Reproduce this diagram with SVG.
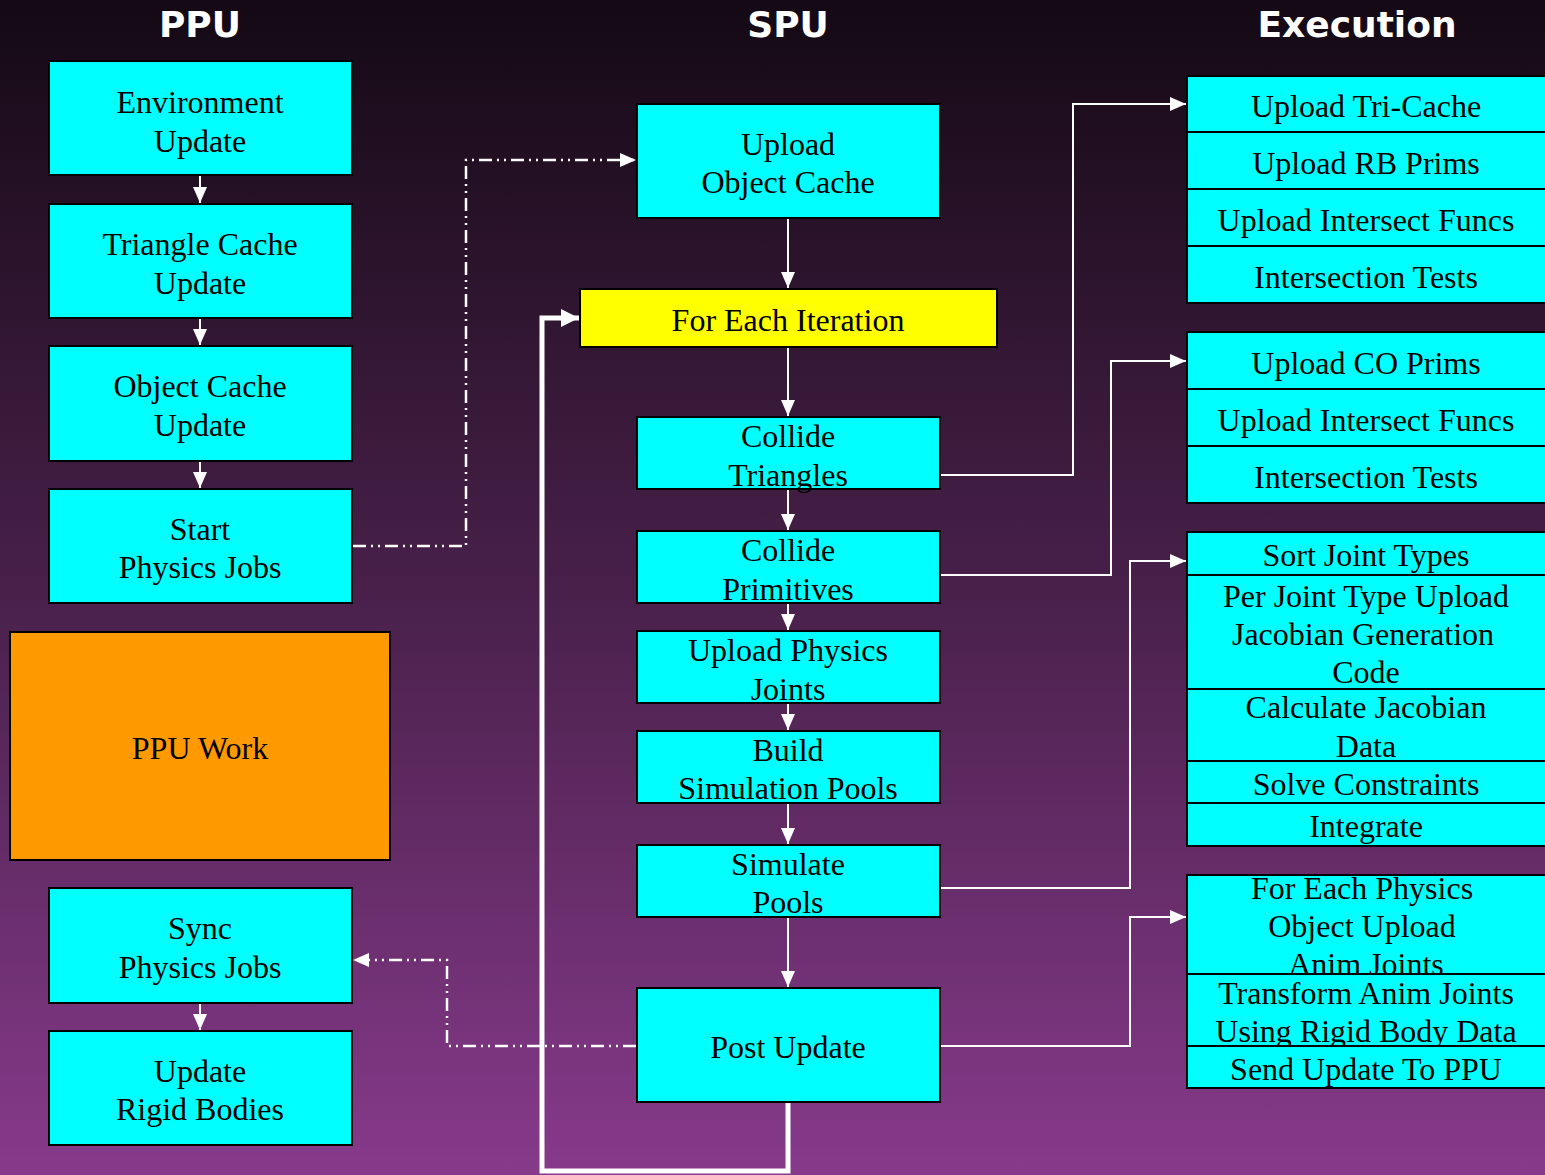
<svg xmlns="http://www.w3.org/2000/svg" width="1545" height="1175" viewBox="0 0 1545 1175">
  <defs>
    <linearGradient id="bg" x1="0" y1="0" x2="0" y2="1">
      <stop offset="0" stop-color="#140914"/>
      <stop offset="0.5" stop-color="#48204a"/>
      <stop offset="1" stop-color="#873a8b"/>
    </linearGradient>
    <marker id="arrow" markerUnits="userSpaceOnUse" markerWidth="16" markerHeight="16" refX="16" refY="8" orient="auto">
      <path d="M0,1 L16,8 L0,15 Z" fill="#ffffff"/>
    </marker>
    <marker id="arrowBig" markerUnits="userSpaceOnUse" markerWidth="18" markerHeight="18" refX="18" refY="9" orient="auto">
      <path d="M0,0 L18,9 L0,18 Z" fill="#ffffff"/>
    </marker>
    <!-- the first post-update row clips its last line at the row edge -->
    <clipPath id="clipFirstPostRow">
      <rect x="1187" y="875" width="370" height="99"/>
    </clipPath>
    <style>
      .box { fill: #00ffff; stroke: #000000; stroke-width: 2; }
      .iter { fill: #ffff00; stroke: #000000; stroke-width: 2; }
      .work { fill: #ff9900; stroke: #000000; stroke-width: 2; }
      .lbl { font-family: "Liberation Serif", "Times New Roman", serif; font-size: 32px; fill: #000000; text-anchor: middle; }
      .head { font-family: "DejaVu Sans", Verdana, sans-serif; font-weight: bold; font-size: 36px; fill: #ffffff; text-anchor: middle; }
      .flow { stroke: #ffffff; stroke-width: 2; fill: none; }
      .sync { stroke: #ffffff; stroke-width: 2.5; fill: none; stroke-dasharray: 13 5 2 5 2 5; }
      .loop { stroke: #ffffff; stroke-width: 5; fill: none; }
    </style>
  </defs>

  <rect x="0" y="0" width="1545" height="1175" fill="url(#bg)"/>

  <!-- column headings -->
  <text class="head" x="200" y="37">PPU</text>
  <text class="head" x="788" y="37">SPU</text>
  <text class="head" x="1357" y="37">Execution</text>

  <!-- connectors -->
  <g id="connectors">
    <!-- PPU chain -->
    <line class="flow" x1="200" y1="176" x2="200" y2="203" marker-end="url(#arrow)"/>
    <line class="flow" x1="200" y1="319" x2="200" y2="345" marker-end="url(#arrow)"/>
    <line class="flow" x1="200" y1="462" x2="200" y2="488" marker-end="url(#arrow)"/>
    <line class="flow" x1="200" y1="1004" x2="200" y2="1030" marker-end="url(#arrow)"/>
    <!-- SPU chain -->
    <line class="flow" x1="788" y1="219" x2="788" y2="288" marker-end="url(#arrow)"/>
    <line class="flow" x1="788" y1="348" x2="788" y2="416" marker-end="url(#arrow)"/>
    <line class="flow" x1="788" y1="490" x2="788" y2="530" marker-end="url(#arrow)"/>
    <line class="flow" x1="788" y1="604" x2="788" y2="630" marker-end="url(#arrow)"/>
    <line class="flow" x1="788" y1="704" x2="788" y2="730" marker-end="url(#arrow)"/>
    <line class="flow" x1="788" y1="804" x2="788" y2="844" marker-end="url(#arrow)"/>
    <line class="flow" x1="788" y1="918" x2="788" y2="987" marker-end="url(#arrow)"/>
    <!-- PPU / SPU signalling -->
    <polyline class="sync" points="353,546 466,546 466,160 636,160" marker-end="url(#arrow)"/>
    <polyline class="sync" points="636,1046 447,1046 447,960 353,960" marker-end="url(#arrow)"/>
    <!-- iteration loop back -->
    <polyline class="loop" points="788,1103 788,1171 542,1171 542,318 579,318" marker-end="url(#arrowBig)"/>
    <!-- SPU tasks to execution detail -->
    <polyline class="flow" points="941,475 1073,475 1073,104 1186,104" marker-end="url(#arrow)"/>
    <polyline class="flow" points="941,575 1111,575 1111,361 1186,361" marker-end="url(#arrow)"/>
    <polyline class="flow" points="941,888 1130,888 1130,561 1186,561" marker-end="url(#arrow)"/>
    <polyline class="flow" points="941,1046 1130,1046 1130,917 1186,917" marker-end="url(#arrow)"/>
  </g>

  <!-- PPU column -->
  <g id="env-update">
    <rect class="box" x="49" y="61" width="303" height="114"/>
    <text class="lbl" x="200" y="113">Environment</text>
    <text class="lbl" x="200" y="152">Update</text>
  </g>
  <g id="tri-cache-update">
    <rect class="box" x="49" y="204" width="303" height="114"/>
    <text class="lbl" x="200" y="255">Triangle Cache</text>
    <text class="lbl" x="200" y="294">Update</text>
  </g>
  <g id="obj-cache-update">
    <rect class="box" x="49" y="346" width="303" height="115"/>
    <text class="lbl" x="200" y="397">Object Cache</text>
    <text class="lbl" x="200" y="436">Update</text>
  </g>
  <g id="start-jobs">
    <rect class="box" x="49" y="489" width="303" height="114"/>
    <text class="lbl" x="200" y="540">Start</text>
    <text class="lbl" x="200" y="578">Physics Jobs</text>
  </g>
  <g id="ppu-work">
    <rect class="work" x="10" y="632" width="380" height="228"/>
    <text class="lbl" x="200" y="759">PPU Work</text>
  </g>
  <g id="sync-jobs">
    <rect class="box" x="49" y="888" width="303" height="115"/>
    <text class="lbl" x="200" y="939">Sync</text>
    <text class="lbl" x="200" y="978">Physics Jobs</text>
  </g>
  <g id="update-rb">
    <rect class="box" x="49" y="1031" width="303" height="114"/>
    <text class="lbl" x="200" y="1082">Update</text>
    <text class="lbl" x="200" y="1120">Rigid Bodies</text>
  </g>

  <!-- SPU column -->
  <g id="upload-obj-cache">
    <rect class="box" x="637" y="104" width="303" height="114"/>
    <text class="lbl" x="788" y="155">Upload</text>
    <text class="lbl" x="788" y="193">Object Cache</text>
  </g>
  <g id="for-each-iteration">
    <rect class="iter" x="580" y="289" width="417" height="58"/>
    <text class="lbl" x="788" y="331">For Each Iteration</text>
  </g>
  <g id="collide-triangles">
    <rect class="box" x="637" y="417" width="303" height="72"/>
    <text class="lbl" x="788" y="447">Collide</text>
    <text class="lbl" x="788" y="486">Triangles</text>
  </g>
  <g id="collide-primitives">
    <rect class="box" x="637" y="531" width="303" height="72"/>
    <text class="lbl" x="788" y="561">Collide</text>
    <text class="lbl" x="788" y="600">Primitives</text>
  </g>
  <g id="upload-joints">
    <rect class="box" x="637" y="631" width="303" height="72"/>
    <text class="lbl" x="788" y="661">Upload Physics</text>
    <text class="lbl" x="788" y="700">Joints</text>
  </g>
  <g id="build-pools">
    <rect class="box" x="637" y="731" width="303" height="72"/>
    <text class="lbl" x="788" y="761">Build</text>
    <text class="lbl" x="788" y="799">Simulation Pools</text>
  </g>
  <g id="simulate-pools">
    <rect class="box" x="637" y="845" width="303" height="72"/>
    <text class="lbl" x="788" y="875">Simulate</text>
    <text class="lbl" x="788" y="913">Pools</text>
  </g>
  <g id="post-update">
    <rect class="box" x="637" y="988" width="303" height="114"/>
    <text class="lbl" x="788" y="1058">Post Update</text>
  </g>

  <!-- Execution column: triangle collision -->
  <g id="exec-tri">
    <rect class="box" x="1187" y="76" width="370" height="56"/>
    <text class="lbl" x="1366" y="117">Upload Tri-Cache</text>
    <rect class="box" x="1187" y="132" width="370" height="57"/>
    <text class="lbl" x="1366" y="174">Upload RB Prims</text>
    <rect class="box" x="1187" y="189" width="370" height="57"/>
    <text class="lbl" x="1366" y="231">Upload Intersect Funcs</text>
    <rect class="box" x="1187" y="246" width="370" height="57"/>
    <text class="lbl" x="1366" y="288">Intersection Tests</text>
  </g>

  <!-- Execution column: primitive collision -->
  <g id="exec-prim">
    <rect class="box" x="1187" y="332" width="370" height="57"/>
    <text class="lbl" x="1366" y="374">Upload CO Prims</text>
    <rect class="box" x="1187" y="389" width="370" height="57"/>
    <text class="lbl" x="1366" y="431">Upload Intersect Funcs</text>
    <rect class="box" x="1187" y="446" width="370" height="57"/>
    <text class="lbl" x="1366" y="488">Intersection Tests</text>
  </g>

  <!-- Execution column: pool simulation -->
  <g id="exec-sim">
    <rect class="box" x="1187" y="532" width="370" height="43"/>
    <text class="lbl" x="1366" y="566">Sort Joint Types</text>
    <rect class="box" x="1187" y="575" width="370" height="114"/>
    <text class="lbl" x="1366" y="607">Per Joint Type Upload</text>
    <text class="lbl" x="1363" y="645">Jacobian Generation</text>
    <text class="lbl" x="1366" y="683">Code</text>
    <rect class="box" x="1187" y="689" width="370" height="72"/>
    <text class="lbl" x="1366" y="718">Calculate Jacobian</text>
    <text class="lbl" x="1366" y="757">Data</text>
    <rect class="box" x="1187" y="761" width="370" height="42"/>
    <text class="lbl" x="1366" y="795">Solve Constraints</text>
    <rect class="box" x="1187" y="803" width="370" height="43"/>
    <text class="lbl" x="1366" y="837">Integrate</text>
  </g>

  <!-- Execution column: post update -->
  <g id="exec-post">
    <rect class="box" x="1187" y="875" width="370" height="99"/>
    <g clip-path="url(#clipFirstPostRow)">
      <text class="lbl" x="1362" y="899">For Each Physics</text>
      <text class="lbl" x="1362" y="937">Object Upload</text>
      <text class="lbl" x="1366" y="975">Anim Joints</text>
    </g>
    <rect class="box" x="1187" y="974" width="370" height="72"/>
    <text class="lbl" x="1366" y="1004">Transform Anim Joints</text>
    <text class="lbl" x="1366" y="1042">Using Rigid Body Data</text>
    <rect class="box" x="1187" y="1046" width="370" height="42"/>
    <text class="lbl" x="1366" y="1080">Send Update To PPU</text>
  </g>
</svg>
